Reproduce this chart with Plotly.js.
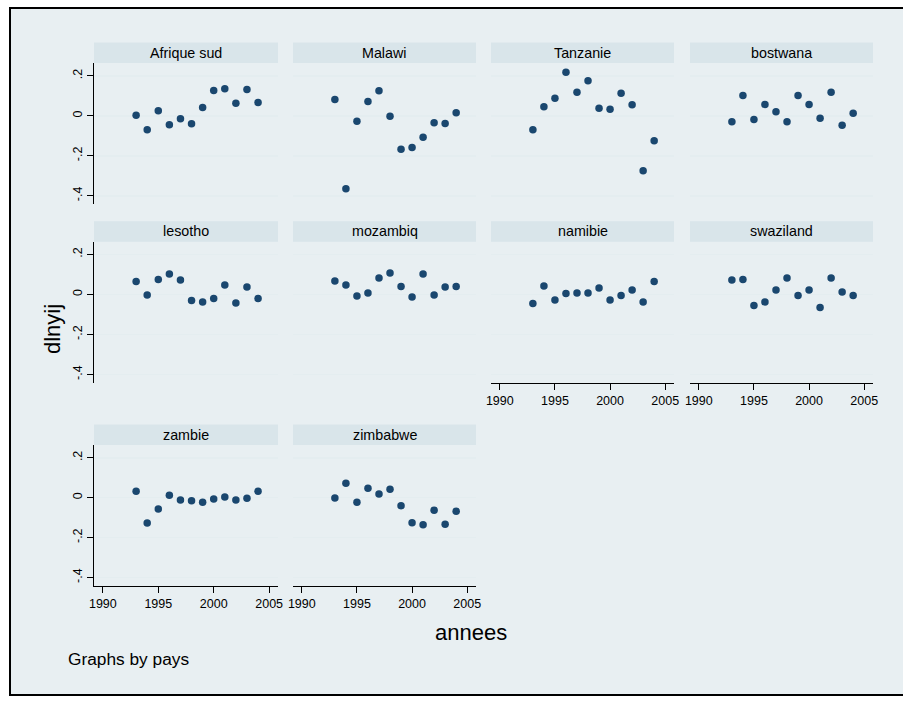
<!DOCTYPE html>
<html>
<head>
<meta charset="utf-8">
<script src="https://cdn.plot.ly/plotly-3.0.1.min.js"></script>
<style>
  html, body { margin: 0; padding: 0; background: #ffffff; }
  #chart { width: 903px; height: 704px; }
</style>
</head>
<body>
<div id="chart"></div>
<script>
// ---- data ----
const years = [1993, 1994, 1995, 1996, 1997, 1998, 1999, 2000, 2001, 2002, 2003, 2004];
const countries = ["Afrique sud", "Malawi", "Tanzanie", "bostwana", "lesotho", "mozambiq", "namibie", "swaziland", "zambie", "zimbabwe"];
const afriqueSud = [0.003, -0.070, 0.025, -0.045, -0.015, -0.040, 0.042, 0.127, 0.135, 0.063, 0.132, 0.067];
const malawi     = [0.082, -0.365, -0.027, 0.072, 0.125, -0.002, -0.167, -0.158, -0.107, -0.035, -0.038, 0.015];
const tanzanie   = [-0.070, 0.045, 0.088, 0.218, 0.118, 0.175, 0.038, 0.033, 0.113, 0.055, -0.275, -0.125];
const bostwana   = [-0.030, 0.102, -0.018, 0.057, 0.020, -0.030, 0.102, 0.057, -0.012, 0.118, -0.047, 0.013];
const lesotho    = [0.065, -0.003, 0.075, 0.103, 0.073, -0.030, -0.037, -0.020, 0.047, -0.043, 0.038, -0.020];
const mozambiq   = [0.068, 0.048, -0.008, 0.007, 0.082, 0.107, 0.040, -0.012, 0.103, -0.003, 0.038, 0.040];
const namibie    = [-0.045, 0.043, -0.027, 0.005, 0.008, 0.008, 0.032, -0.028, -0.005, 0.022, -0.037, 0.065];
const swaziland  = [0.073, 0.075, -0.055, -0.037, 0.022, 0.082, -0.005, 0.023, -0.065, 0.083, 0.013, -0.005];
const zambie     = [0.032, -0.127, -0.057, 0.012, -0.012, -0.015, -0.023, -0.007, 0.003, -0.012, -0.003, 0.032];
const zimbabwe   = [-0.002, 0.072, -0.023, 0.047, 0.018, 0.042, -0.040, -0.125, -0.135, -0.063, -0.133, -0.068];
const seriesList = [afriqueSud, malawi, tanzanie, bostwana, lesotho, mozambiq, namibie, swaziland, zambie, zimbabwe];
const xTickVals = [1990, 1995, 2000, 2005];
const xTickText = ["1990", "1995", "2000", "2005"];
const yTickVals = [-0.4, -0.2, 0, 0.2];
const yTickText = ["-.4", "-.2", "0", ".2"];

// ---- geometry (pixels) ----
const W = 903, H = 704;
const colX = [[94, 278], [293, 476], [491, 674], [690, 873]];
const rowY = [[63, 204], [241.7, 382.7], [445, 585.7]];
const stripH = 20.5;
const px = v => v / W;
const py = v => 1 - v / H;

const markerColor = "#1a476f";
const outerBg = "#e8eff2";
const stripBg = "#d9e5ea";
const gridCol = "#e4edf0";
const FONT = "Liberation Sans, Arial, sans-serif";

const traces = [];
const layout = {
  width: W, height: H,
  margin: {l: 0, r: 0, t: 0, b: 0},
  paper_bgcolor: "#ffffff",
  plot_bgcolor: "#ffffff",
  showlegend: false,
  font: {family: FONT, color: "#000000"},
  shapes: [],
  annotations: []
};

// outer frame
layout.shapes.push({
  type: "rect", xref: "paper", yref: "paper", layer: "below",
  x0: px(10), x1: px(912), y0: py(695), y1: py(8),
  fillcolor: outerBg, line: {color: "#000000", width: 2}
});

const hasXAxis = [false, false, false, false, false, false, true, true, true, true];

for (let i = 0; i < countries.length; i++) {
  const row = Math.floor(i / 4), col = i % 4;
  const n = i + 1;
  const xa = "xaxis" + (n === 1 ? "" : n);
  const ya = "yaxis" + (n === 1 ? "" : n);
  traces.push({
    type: "scatter", mode: "markers",
    x: years, y: seriesList[i],
    xaxis: "x" + (n === 1 ? "" : n), yaxis: "y" + (n === 1 ? "" : n),
    marker: {color: markerColor, size: 7.5},
    hoverinfo: "x+y"
  });
  const showX = hasXAxis[i];
  layout[xa] = {
    domain: [px(colX[col][0]), px(colX[col][1])],
    anchor: "y" + (n === 1 ? "" : n),
    range: [1989.2, 2005.8],
    showgrid: false, zeroline: false,
    showline: showX, linecolor: "#000000", linewidth: 1,
    ticks: showX ? "outside" : "", ticklen: 6, tickcolor: "#000000", tickwidth: 1,
    tickvals: xTickVals, ticktext: xTickText,
    showticklabels: showX,
    tickfont: {family: FONT, size: 12.5, color: "#000000"}
  };
  const showY = col === 0;
  layout[ya] = {
    domain: [py(rowY[row][1]), py(rowY[row][0])],
    anchor: "x" + (n === 1 ? "" : n),
    range: [-0.441, 0.264],
    showgrid: true, gridcolor: gridCol, gridwidth: 1.5,
    zeroline: false,
    showline: showY, linecolor: "#000000", linewidth: 1,
    ticks: showY ? "outside" : "", ticklen: 6, tickcolor: "#000000", tickwidth: 1,
    tickvals: yTickVals, ticktext: yTickText,
    showticklabels: showY, tickangle: -90,
    tickfont: {family: FONT, size: 12.5, color: "#000000"}
  };
  // strip header
  layout.shapes.push({
    type: "rect", xref: "paper", yref: "paper", layer: "below",
    x0: px(colX[col][0]), x1: px(colX[col][1]),
    y0: py(rowY[row][0]), y1: py(rowY[row][0] - stripH),
    fillcolor: stripBg, line: {width: 0}
  });
  layout.annotations.push({
    xref: "paper", yref: "paper",
    x: px((colX[col][0] + colX[col][1]) / 2), y: py(rowY[row][0] - stripH / 2),
    text: countries[i], showarrow: false, xanchor: "center", yanchor: "middle",
    font: {family: FONT, size: 14.3, color: "#000000"}
  });
}

// axis titles and note
layout.annotations.push({
  xref: "paper", yref: "paper", x: px(52), y: py(329),
  text: "dlnyij", textangle: -90, showarrow: false,
  xanchor: "center", yanchor: "middle",
  font: {family: FONT, size: 22, color: "#000000"}
});
layout.annotations.push({
  xref: "paper", yref: "paper", x: px(471), y: py(632),
  text: "annees", showarrow: false, xanchor: "center", yanchor: "middle",
  font: {family: FONT, size: 22, color: "#000000"}
});
layout.annotations.push({
  xref: "paper", yref: "paper", x: px(66), y: py(659),
  text: "Graphs by pays", showarrow: false, xanchor: "left", yanchor: "middle",
  font: {family: FONT, size: 17.3, color: "#000000"}
});

Plotly.newPlot("chart", traces, layout, {displayModeBar: false, staticPlot: true});
</script>
</body>
</html>
